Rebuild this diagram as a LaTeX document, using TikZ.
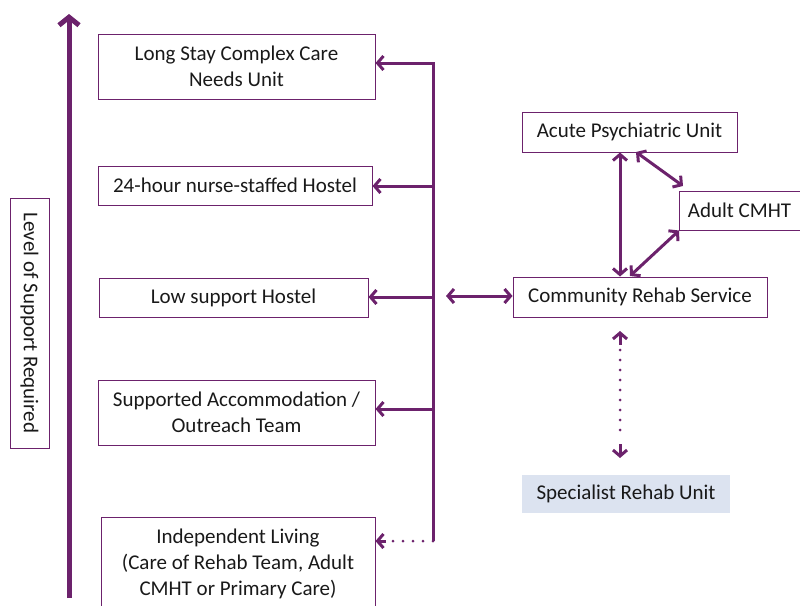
\documentclass[tikz,border=0pt]{standalone}
\usepackage{fontspec}
\setmainfont{Carlito}
\usetikzlibrary{arrows.meta}
\definecolor{purp}{RGB}{108,34,108}
\definecolor{lblue}{RGB}{220,227,240}
\begin{document}
\begin{tikzpicture}[x=1pt,y=-1pt,
  box/.style={draw=purp,line width=1pt,inner sep=0pt,align=center,font=\fontsize{21}{26}\selectfont,text=black!90},
  conn/.style={draw=purp,line width=3pt},
  tip/.style={-{Straight Barb[length=6pt,width=14pt,line width=3pt]}},
  dtip/.style={{Straight Barb[length=6pt,width=14pt,line width=3pt]}-{Straight Barb[length=6pt,width=14pt,line width=3pt]}},
  dotl/.style={line cap=round,dash pattern=on 0pt off 10pt}
]
\useasboundingbox (0,0) rectangle (800,605);
\clip (0,0) rectangle (800,605);
% left boxes
\node[box,minimum width=277pt,minimum height=65pt] (ls) at (236.5,66.5) {Long Stay Complex Care\\Needs Unit};
\node[box,minimum width=274pt,minimum height=39pt] (nh) at (235,185.5) {24-hour nurse-staffed Hostel};
\node[box,minimum width=269pt,minimum height=39pt] (lh) at (233.5,297.5) {Low support Hostel};
\node[box,minimum width=277pt,minimum height=65pt] (sa) at (236.5,412.5) {Supported Accommodation /\\Outreach Team};
\node[box,minimum width=274pt,minimum height=92pt,anchor=north] (il) at (238,517) {Independent Living\\(Care of Rehab Team, Adult\\CMHT or Primary Care)};
\node[box,minimum width=250pt,minimum height=39pt,rotate=-90] (lv) at (29.5,323) {Level of Support Required};
% right boxes
\node[box,minimum width=215pt,minimum height=40pt] (ap) at (629.5,132) {Acute Psychiatric Unit};
\node[box,minimum width=130pt,minimum height=39pt,anchor=west] (ac) at (679,210.5) {\hspace*{-10pt}Adult CMHT};
\node[box,minimum width=254pt,minimum height=40pt] (cr) at (640,297) {Community Rehab Service};
\node[box,draw=none,fill=lblue,minimum width=208pt,minimum height=38pt] (sr) at (626,494) {Specialist Rehab Unit};
% big arrow
\coordinate (b0) at (69,598);
\coordinate (b1) at (69,14);
\draw[purp,line width=5pt,-{Straight Barb[length=8pt,width=20pt,line width=5pt]}] (b0) -- (b1);
% spine
\coordinate (s0) at (433,63);
\coordinate (s1) at (433,541);
\draw[conn] (s0) -- (s1);
\draw[conn,tip] (434.5,63) -- (ls.east |- 0,63);
\draw[conn,tip] (433,186) -- (nh.east |- 0,186);
\draw[conn,tip] (433,297) -- (lh.east |- 0,297);
\draw[conn,tip] (433,409) -- (sa.east |- 0,409);
\draw[conn,dotl] (433,541) -- (386,541);
\draw[conn,tip] (386,541) -- (il.east |- 0,541);
\draw[conn,dtip] (446,296) -- (cr.west |- 0,296);
% right connectors
\draw[conn,dtip] (ap.south -| 620,0) -- (cr.north -| 620,0);
\draw[conn,dtip] (636,152) -- (683,186);
\draw[conn,dtip] (ac.south west) -- (630,276);
\coordinate (d0) at (620,331);
\coordinate (d1) at (620,458);
\draw[conn,dotl] (620,350) -- (620,440);
\draw[conn,tip] (620,345) -- (d0);
\draw[conn,tip] (620,444) -- (d1);
\end{tikzpicture}
\end{document}
